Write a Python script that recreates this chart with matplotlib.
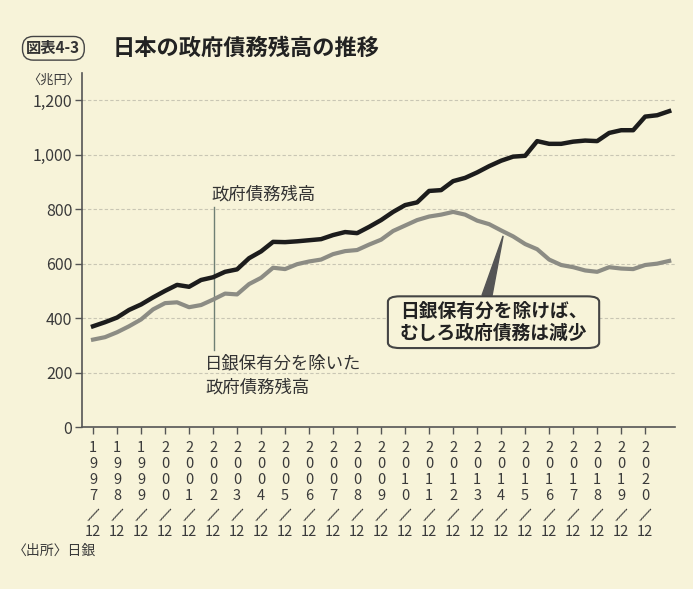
import matplotlib
matplotlib.use("Agg")
import matplotlib.pyplot as plt
from matplotlib.patches import FancyBboxPatch, Polygon

plt.rcParams['font.family'] = ['Noto Sans CJK JP', 'DejaVu Sans']

# 半期ごとの値 (1997/12 から)
start_year = 1997 + 11 / 12
debt_total = [370, 385, 402, 430, 450, 476, 500, 522, 515, 540,
              550, 570, 579, 620, 645, 680, 679, 682, 686, 690,
              705, 716, 712, 735, 760, 790, 815, 825, 867, 870,
              903, 915, 935, 958, 978, 993, 996, 1050, 1040, 1040,
              1048, 1052, 1050, 1080, 1090, 1090, 1140, 1145, 1160]
debt_ex_boj = [321, 330, 348, 370, 395, 432, 455, 458, 440, 448,
               468, 490, 487, 525, 548, 585, 580, 598, 608, 615,
               635, 646, 650, 670, 688, 720, 740, 760, 773, 780,
               790, 780, 758, 745, 722, 700, 672, 653, 615, 595,
               587, 575, 570, 587, 582, 580, 595, 600, 610]
tick_years = list(range(1997, 2021))
y_ticks = [0, 200, 400, 600, 800, 1000, 1200]
y_labels = ["0", "200", "400", "600", "800", "1,000", "1,200"]

t = [start_year + 0.5 * i for i in range(len(debt_total))]
tick_pos = [start_year + (y - 1997) for y in tick_years]

bg = "#f7f3d9"
txt = "#333333"
fig = plt.figure(figsize=(6.93, 5.89), dpi=100, facecolor=bg)
ax = fig.add_axes([0.1183, 0.275, 0.856, 0.601], facecolor=bg)

for v in y_ticks[1:]:
    ax.axhline(v, color="#c9c6b4", lw=0.8, ls=(0, (3, 2)), zorder=1)

ax.plot(t, debt_ex_boj, color="#8c8c84", lw=3, zorder=3)
ax.plot(t, debt_total, color="#1c1c1c", lw=3.2, zorder=4)

ax.set_xlim(start_year - 0.46, start_year + 24.25)
ax.set_ylim(0, 1300)
ax.set_yticks(y_ticks)
ax.set_yticklabels(y_labels, fontsize=11.5, color="#3a3a3a")
ax.set_xticks(tick_pos)
ax.set_xticklabels([])
ax.tick_params(axis="y", length=5, width=1, color="#555555", pad=2)
ax.tick_params(axis="x", length=5, width=1, color="#555555")
for s in ["top", "right"]:
    ax.spines[s].set_visible(False)
for s in ["left", "bottom"]:
    ax.spines[s].set_color("#555555")
    ax.spines[s].set_linewidth(1.2)

# 縦書き風の目盛ラベル (1文字ずつ縦に並べる)
xt = ax.get_xaxis_transform()
digit_rows = [-0.059, -0.104, -0.149, -0.195]
for x, y in zip(tick_pos, tick_years):
    for ch, yy in zip(str(y), digit_rows):
        ax.text(x, yy, ch, transform=xt, ha="center", va="center",
                fontsize=10.5, color="#3a3a3a")
    ax.text(x, -0.250, "/", transform=xt, ha="center", va="center",
            fontsize=12, color="#3a3a3a", rotation=-25)
    ax.text(x, -0.297, "12", transform=xt, ha="center", va="center",
            fontsize=10.5, color="#3a3a3a")

# 注釈
ax.text(2005.0, 853, "政府債務残高", ha="center", va="center",
        fontsize=12.5, color=txt)
ax.plot([2002.96, 2002.96], [808, 284], color="#6f7f74", lw=1, zorder=2)
ax.text(2002.58, 190, "日銀保有分を除いた\n政府債務残高", ha="left", va="center",
        fontsize=12.5, color=txt, linespacing=1.45)

ax.add_patch(Polygon([(2014.12, 484), (2014.54, 484), (2015.0, 702)],
                     closed=True, color="#555555", zorder=5))
box = FancyBboxPatch((2010.2, 290), 8.8, 190,
                     boxstyle="round,pad=0,rounding_size=0.5",
                     mutation_aspect=40,
                     facecolor=bg, edgecolor="#444444", lw=1.5, zorder=6)
ax.add_patch(box)
ax.text(2014.6, 385, "日銀保有分を除けば、\nむしろ政府債務は減少", ha="center",
        va="center", fontsize=13.5, fontweight="bold", color="#222222",
        linespacing=1.25, zorder=7)

# タイトル・単位・出所
fig.text(0.038, 0.918, "図表4-3", fontsize=11, fontweight="bold",
         color=txt, va="center",
         bbox=dict(boxstyle="round,pad=0.25,rounding_size=0.7",
                   facecolor=bg, edgecolor="#444444", lw=1))
fig.text(0.162, 0.918, "日本の政府債務残高の推移", fontsize=16,
         fontweight="bold", color="#222222", va="center")
fig.text(0.039, 0.864, "〈兆円〉", fontsize=9.5, color="#3a3a3a", va="center")
fig.text(0.018, 0.065, "〈出所〉日銀", fontsize=10, color="#3a3a3a", va="center")

fig.savefig("out.png", dpi=100, facecolor=bg)
